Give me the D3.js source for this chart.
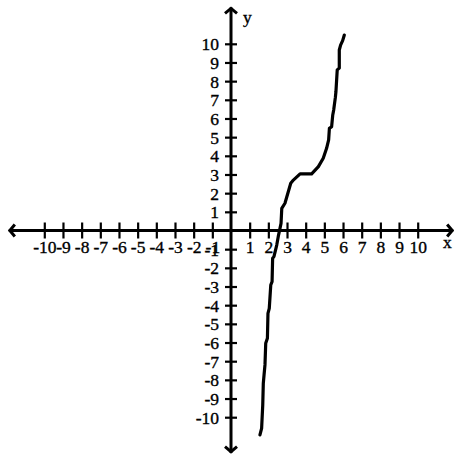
<!DOCTYPE html>
<html>
<head>
	<style>
		body, html { margin: 0; padding: 0; background: #fff; }
		svg { display: block; }
		text { font-family: "Liberation Serif", "Times New Roman", serif; stroke: #000; stroke-width: 0.35px; }
	</style>
</head>
<body>
	<svg id="svg" width="454" height="455"></svg>
	<script src="https://d3js.org/d3.v7.min.js"></script>
	<script>
		// tick values on both axes (0 is left out)
		const xTicks = [-10, -9, -8, -7, -6, -5, -4, -3, -2, -1, 1, 2, 3, 4, 5, 6, 7, 8, 9, 10]
		const yTicks = [-10, -9, -8, -7, -6, -5, -4, -3, -2, -1, 1, 2, 3, 4, 5, 6, 7, 8, 9, 10]

		// curve points
		const curveX = [1.55, 1.64, 1.70, 1.73, 1.77, 1.82, 1.86, 1.95, 1.98, 2.05, 2.13, 2.20, 2.23, 2.30, 2.45, 2.53,
			2.68, 2.72, 2.89, 3.20, 3.34, 3.70, 4.32, 4.68, 4.94, 5.12, 5.23, 5.27, 5.39, 5.45, 5.50, 5.59,
			5.62, 5.69, 5.80, 5.80, 5.87, 5.98, 6.07]
		const curveY = [-10.95, -10.6, -9.35, -8.19, -7.74, -7.2, -6.04, -5.77, -4.44, -4.17, -2.92, -2.74, -1.49, -1.4, -0.78, -0.33,
			0.38, 1.19, 1.46, 2.53, 2.7, 3.03, 3.03, 3.42, 3.87, 4.4, 4.85, 5.47, 5.56, 6.19, 6.45, 7.13,
			7.43, 8.6, 8.7, 9.67, 9.93, 10.17, 10.47]

		const svg = d3.select('#svg')

		// one unit is about 18.67px, origin at (231, 230.5)
		const unit = 18.67
		const x = d3.scaleLinear().domain([-12, 12]).range([231 - 12 * unit, 231 + 12 * unit])
		const y = d3.scaleLinear().domain([-12, 12]).range([230.5 + 12 * unit, 230.5 - 12 * unit])
		const fs = 17.5

		// x axis ticks, crossing the line
		const gx = svg.append('g')
			.attr('transform', `translate(0,${y(0)})`)
			.call(d3.axisBottom(x).tickValues(xTicks).tickSize(8).tickSizeOuter(0))
		gx.select('.domain').remove()
		gx.selectAll('.tick line').attr('y1', -8).attr('stroke-width', 2.2)
		gx.selectAll('.tick text')
			.attr('y', 22).attr('dy', 0)
			.attr('font-size', fs).attr('fill', '#000')
			.text(d => d)

		// y axis
		const gy = svg.append('g')
			.attr('transform', `translate(${x(0)},0)`)
			.call(d3.axisLeft(y).tickValues(yTicks).tickSize(6).tickSizeOuter(0))
		gy.select('.domain').remove()
		gy.selectAll('.tick line').attr('x1', 6).attr('stroke-width', 2.2)
		gy.selectAll('.tick text')
			.attr('x', -12).attr('dy', '0.34em')
			.attr('font-size', fs).attr('fill', '#000')
			.text(d => d)
		svg.selectAll('.tick line').attr('stroke', '#000')
		svg.selectAll('g').attr('font-family', null)

		// main axis lines with arrow heads
		const axes = svg.append('g').attr('stroke', '#000').attr('fill', 'none')
			.attr('stroke-width', 3).attr('stroke-linejoin', 'miter')
		axes.append('line').attr('x1', x(-11.9)).attr('x2', x(11.9)).attr('y1', y(0)).attr('y2', y(0))
		axes.append('line').attr('x1', x(0)).attr('x2', x(0)).attr('y1', y(11.95)).attr('y2', y(-11.9))
		const a = 6
		axes.append('path').attr('d', `M${x(-11.9) + a},${y(0) - a} L${x(-11.9) + 1},${y(0)} L${x(-11.9) + a},${y(0) + a}`)
		axes.append('path').attr('d', `M${x(11.9) - a},${y(0) - a} L${x(11.9) - 1},${y(0)} L${x(11.9) - a},${y(0) + a}`)
		axes.append('path').attr('d', `M${x(0) - a},${y(11.95) + a} L${x(0)},${y(11.95) + 1} L${x(0) + a},${y(11.95) + a}`)
		axes.append('path').attr('d', `M${x(0) - a},${y(-11.9) - a} L${x(0)},${y(-11.9) - 1} L${x(0) + a},${y(-11.9) - a}`)

		// axis names
		svg.append('text').attr('x', 443).attr('y', 248).attr('font-size', fs).text('x')
		svg.append('text').attr('x', 243).attr('y', 23).attr('font-size', fs).text('y')

		// the curve
		const pts = curveX.map((d, i) => [d, curveY[i]])
		svg.append('path')
			.datum(pts)
			.attr('fill', 'none')
			.attr('stroke', '#000')
			.attr('stroke-width', 3.2)
			.attr('stroke-linejoin', 'round')
			.attr('stroke-linecap', 'round')
			.attr('d', d3.line().x(d => x(d[0])).y(d => y(d[1])))
	</script>
</body>
</html>
